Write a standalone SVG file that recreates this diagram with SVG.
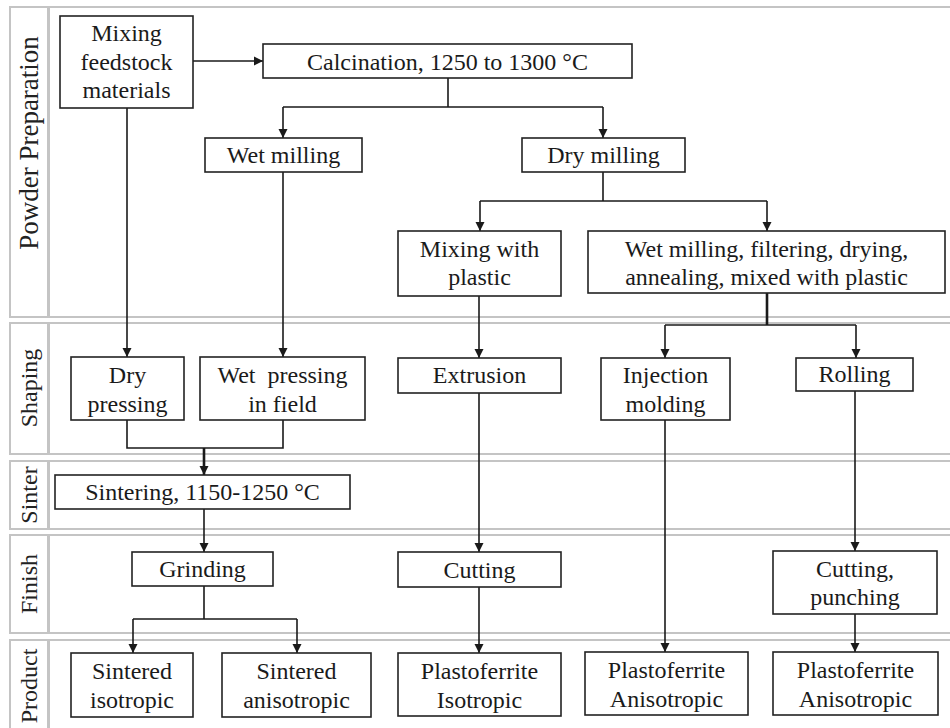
<svg xmlns="http://www.w3.org/2000/svg" width="950" height="728" viewBox="0 0 950 728">
<style>
.lane{fill:#fff;stroke:#c4c4c4;stroke-width:2}
.lbl{font-family:"Liberation Serif","Times New Roman",serif;font-size:24px;fill:#222;text-anchor:middle}
.box{fill:#fff;stroke:#222;stroke-width:1.6}
.t{font-family:"Liberation Serif","Times New Roman",serif;font-size:24px;fill:#1a1a1a;text-anchor:middle}
.c{fill:none;stroke:#1a1a1a;stroke-width:1.6}
.th{stroke-width:2.6}
.a{marker-end:url(#ah)}
</style>
<defs>
<marker id="ah" viewBox="0 0 10 10" refX="10" refY="5" markerWidth="9" markerHeight="10" markerUnits="userSpaceOnUse" orient="auto">
<path d="M0,0 L10,5 L0,10 z" fill="#1a1a1a"/>
</marker>
</defs>
<rect width="950" height="728" fill="#fff"/>
<g id="lanes">
<g id="lane-powder">
<rect class="lane" x="10" y="7" width="38" height="310"/>
<rect class="lane" x="49" y="7" width="905" height="310"/>
<text class="lbl" style="font-size:27px" transform="translate(38,143) rotate(-90)">Powder Preparation</text>
</g>
<g id="lane-shaping">
<rect class="lane" x="10" y="323" width="38" height="131"/>
<rect class="lane" x="49" y="323" width="905" height="131"/>
<text class="lbl" transform="translate(37,388) rotate(-90)">Shaping</text>
</g>
<g id="lane-sinter">
<rect class="lane" x="10" y="461" width="38" height="68"/>
<rect class="lane" x="49" y="461" width="905" height="68"/>
<text class="lbl" transform="translate(37,495) rotate(-90)">Sinter</text>
</g>
<g id="lane-finish">
<rect class="lane" x="10" y="535" width="38" height="98"/>
<rect class="lane" x="49" y="535" width="905" height="98"/>
<text class="lbl" transform="translate(37,584) rotate(-90)">Finish</text>
</g>
<g id="lane-product">
<rect class="lane" x="10" y="640" width="38" height="95"/>
<rect class="lane" x="49" y="640" width="905" height="95"/>
<text class="lbl" transform="translate(37,686) rotate(-90)">Product</text>
</g>
</g>
<g id="connectors">
<path class="c a" d="M193,61 H263"/>
<path class="c" d="M448,78 V107 M283,107 H603"/>
<path class="c a" d="M283,107 V138"/>
<path class="c a" d="M603,107 V138"/>
<path class="c" d="M603,172 V201 M480,201 H767"/>
<path class="c a" d="M480,201 V231"/>
<path class="c a" d="M767,201 V231"/>
<path class="c a" d="M127,108 V357"/>
<path class="c a" d="M283,172 V357"/>
<path class="c a" d="M479,296 V358"/>
<path class="c th" d="M767,293 V325"/>
<path class="c" d="M665,325 H856"/>
<path class="c a" d="M665,325 V358"/>
<path class="c a" d="M856,325 V358"/>
<path class="c" d="M127,420 V448 H283 V420"/>
<path class="c th a" d="M204,448 V475"/>
<path class="c a" d="M204,509 V552"/>
<path class="c" d="M204,586 V619 M133,619 H297"/>
<path class="c a" d="M133,619 V653"/>
<path class="c a" d="M297,619 V653"/>
<path class="c a" d="M479,393 V552"/>
<path class="c a" d="M479,587 V653"/>
<path class="c a" d="M665,420 V652"/>
<path class="c a" d="M855,391 V551"/>
<path class="c a" d="M855,614 V652"/>
</g>
<g id="n-mix"><rect class="box" x="60" y="16" width="133" height="92"/>
<text class="t" x="126.5" y="41">Mixing</text><text class="t" x="126.5" y="70">feedstock</text><text class="t" x="126.5" y="98">materials</text></g>
<g id="n-calc"><rect class="box" x="263" y="44" width="369" height="34"/>
<text class="t" x="447.5" y="70">Calcination, 1250 to 1300 °C</text></g>
<g id="n-wetmill"><rect class="box" x="205" y="138" width="157" height="34"/>
<text class="t" x="283.5" y="163">Wet milling</text></g>
<g id="n-drymill"><rect class="box" x="522" y="138" width="163" height="34"/>
<text class="t" x="603.5" y="163">Dry milling</text></g>
<g id="n-mixplastic"><rect class="box" x="398" y="231" width="163" height="65"/>
<text class="t" x="479.5" y="257">Mixing with</text><text class="t" x="479.5" y="285">plastic</text></g>
<g id="n-wetfilter"><rect class="box" x="588" y="231" width="357" height="62"/>
<text class="t" x="766.5" y="257">Wet milling, filtering, drying,</text><text class="t" x="766.5" y="285">annealing, mixed with plastic</text></g>
<g id="n-drypress"><rect class="box" x="71" y="357" width="113" height="63"/>
<text class="t" x="127.5" y="383">Dry</text><text class="t" x="127.5" y="412">pressing</text></g>
<g id="n-wetpress"><rect class="box" x="200" y="357" width="165" height="63"/>
<text class="t" x="282.5" y="383" xml:space="preserve">Wet  pressing</text><text class="t" x="282.5" y="412">in field</text></g>
<g id="n-extrusion"><rect class="box" x="398" y="358" width="163" height="35"/>
<text class="t" x="479.5" y="383">Extrusion</text></g>
<g id="n-injection"><rect class="box" x="601" y="358" width="129" height="62"/>
<text class="t" x="665.5" y="383">Injection</text><text class="t" x="665.5" y="412">molding</text></g>
<g id="n-rolling"><rect class="box" x="796" y="358" width="117" height="33"/>
<text class="t" x="854.5" y="382">Rolling</text></g>
<g id="n-sintering"><rect class="box" x="55" y="475" width="295" height="34"/>
<text class="t" x="202.5" y="500">Sintering, 1150-1250 °C</text></g>
<g id="n-grinding"><rect class="box" x="132" y="552" width="141" height="34"/>
<text class="t" x="202.5" y="577">Grinding</text></g>
<g id="n-cutting"><rect class="box" x="398" y="552" width="163" height="35"/>
<text class="t" x="479.5" y="578">Cutting</text></g>
<g id="n-cutpunch"><rect class="box" x="773" y="551" width="164" height="63"/>
<text class="t" x="855" y="577">Cutting,</text><text class="t" x="855" y="605">punching</text></g>
<g id="n-sintiso"><rect class="box" x="71" y="653" width="122" height="64"/>
<text class="t" x="132" y="679">Sintered</text><text class="t" x="132" y="708">isotropic</text></g>
<g id="n-sintaniso"><rect class="box" x="222" y="653" width="149" height="64"/>
<text class="t" x="296.5" y="679">Sintered</text><text class="t" x="296.5" y="708">anisotropic</text></g>
<g id="n-pfiso"><rect class="box" x="398" y="653" width="163" height="63"/>
<text class="t" x="479.5" y="679">Plastoferrite</text><text class="t" x="479.5" y="708">Isotropic</text></g>
<g id="n-pfaniso1"><rect class="box" x="585" y="652" width="163" height="63"/>
<text class="t" x="666.5" y="678">Plastoferrite</text><text class="t" x="666.5" y="707">Anisotropic</text></g>
<g id="n-pfaniso2"><rect class="box" x="773" y="652" width="165" height="63"/>
<text class="t" x="855.5" y="678">Plastoferrite</text><text class="t" x="855.5" y="707">Anisotropic</text></g>
</svg>
